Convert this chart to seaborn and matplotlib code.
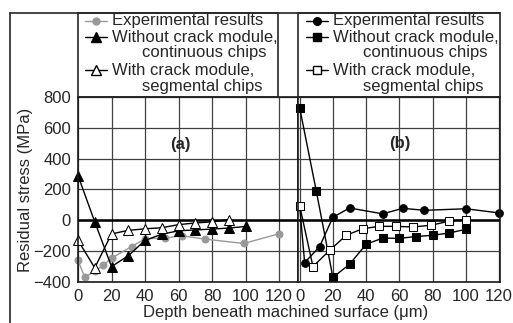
import numpy as np
import pandas as pd
import seaborn as sns
import matplotlib.pyplot as plt
from matplotlib.lines import Line2D
from matplotlib.patches import Rectangle

# panel (a) data
a_exp_x = [0, 4, 10, 15, 20, 32, 40, 52, 62, 76, 99, 120]
a_exp_y = [-260, -368, -330, -292, -245, -170, -120, -115, -100, -122, -150, -87]
a_cont_x = [0, 10, 20, 30, 40, 50, 60, 70, 80, 90, 100]
a_cont_y = [290, -10, -300, -230, -130, -90, -68, -62, -57, -50, -40]
a_seg_x = [0, 10, 20, 30, 40, 50, 60, 70, 80, 90]
a_seg_y = [-130, -308, -88, -65, -55, -48, -28, -17, -10, 5]

# panel (b) data
b_exp_x = [0, 3, 12, 20, 30, 50, 62, 75, 100, 120]
b_exp_y = [90, -275, -170, 20, 80, 42, 78, 65, 75, 48]
b_cont_x = [0, 10, 20, 30, 40, 50, 60, 70, 80, 90, 100]
b_cont_y = [730, 190, -370, -285, -155, -115, -117, -105, -97, -82, -58]
b_seg_x = [0, 8, 18, 28, 38, 48, 58, 68, 79, 90, 100]
b_seg_y = [95, -300, -195, -97, -54, -39, -39, -43, -32, -5, 4]

x_ticks = [0, 20, 40, 60, 80, 100, 120]
y_ticks = [-400, -200, 0, 200, 400, 600, 800]
labels = ["Experimental results", "Without crack module,", "continuous chips",
          "With crack module,", "segmental chips"]

sns.set_style("white")
plt.rcParams['font.family'] = ['Liberation Sans', 'DejaVu Sans']
plt.rcParams['font.size'] = 12

W, H = 513, 323
fx = lambda px: px / W
fy = lambda py: 1 - py / H

fig = plt.figure(figsize=(W / 100, H / 100), dpi=100)
ax_a = fig.add_axes([fx(78), fy(282), 220 / W, 185 / H])
ax_b = fig.add_axes([fx(298), fy(282), 202 / W, 185 / H])

grey = '0.6'
lw = 1.0

# panel (a)
sns.lineplot(x=a_exp_x, y=a_exp_y, ax=ax_a, color=grey, lw=lw, marker='o', markersize=5,
             markeredgecolor=grey, estimator=None, sort=False, clip_on=False)
sns.lineplot(x=a_cont_x, y=a_cont_y, ax=ax_a, color='black', lw=lw, marker='^', markersize=7,
             markeredgecolor='black', estimator=None, sort=False, clip_on=False)
sns.lineplot(x=a_seg_x, y=a_seg_y, ax=ax_a, color='black', lw=lw, marker='^', markersize=7,
             markerfacecolor='white', markeredgecolor='black', estimator=None, sort=False,
             clip_on=False)

# panel (b)
sns.lineplot(x=b_cont_x, y=b_cont_y, ax=ax_b, color='black', lw=lw, marker='s', markersize=6,
             markeredgecolor='black', estimator=None, sort=False, clip_on=False)
sns.lineplot(x=b_exp_x, y=b_exp_y, ax=ax_b, color='black', lw=lw, marker='o', markersize=5.5,
             markeredgecolor='black', estimator=None, sort=False, clip_on=False)
sns.lineplot(x=b_seg_x, y=b_seg_y, ax=ax_b, color='black', lw=lw, marker='s', markersize=6,
             markerfacecolor='white', markeredgecolor='black', estimator=None, sort=False,
             clip_on=False)

ax_a.set_xlim(0, 131.3)
ax_b.set_xlim(-1, 120.5)
for ax in (ax_a, ax_b):
    ax.set_ylim(-400, 800)
    ax.set_xticks(x_ticks)
    ax.set_yticks(y_ticks)
    ax.grid(True, color='0.25', lw=0.9)
    ax.axhline(0, color='black', lw=1.8, zorder=1.5)
    ax.tick_params(axis='both', labelsize=12, length=3, width=1, pad=2, color='0.2')
    for s in ax.spines.values():
        s.set_color('0.1')
        s.set_linewidth(1.2)
    ax.set_xlabel('')
ax_b.set_yticklabels([])
ax_b.tick_params(axis='y', length=0)
ax_a.set_ylabel('Residual stress (MPa)', fontsize=12)
ax_a.yaxis.set_label_coords((33 - 78) / 220, 0.5)

ax_a.text(61, 490, '(a)', fontsize=12, fontweight='bold', ha='center', va='center')
ax_b.text(60, 500, '(b)', fontsize=12, fontweight='bold', ha='center', va='center')

fig.text(fx(286), fy(313), 'Depth beneath machined surface (\u03bcm)', ha='center', va='center',
         fontsize=12)

# outer frame
fig.add_artist(Line2D([fx(10), fx(500)], [fy(13), fy(13)], color='0.15', lw=1.2))
fig.add_artist(Line2D([fx(10), fx(10)], [fy(13), 0], color='0.15', lw=1.2))

# legend boxes
fig.add_artist(Rectangle((fx(78), fy(97)), 200 / W, 84 / H, fill=False, ec='0.15', lw=1.2))
fig.add_artist(Rectangle((fx(298), fy(97)), 202 / W, 84 / H, fill=False, ec='0.15', lw=1.2))


def legend_block(x0, styles):
    rows = [21, 37, 53, 70, 87]
    entries = [(0, styles[0]), (1, styles[1]), (3, styles[2])]
    for i, st in entries:
        y = fy(rows[i])
        fig.add_artist(Line2D([fx(x0), fx(x0 + 11), fx(x0 + 22)], [y, y, y], markevery=[1], **st))
    for i, lab in enumerate(labels):
        xoff = x0 + 27 if i in (0, 1, 3) else x0 + 57
        fig.text(fx(xoff), fy(rows[i]), lab, ha='left', va='center', fontsize=12)


legend_block(85, [
    dict(color=grey, lw=lw, marker='o', markersize=5, markeredgecolor=grey),
    dict(color='black', lw=lw, marker='^', markersize=7),
    dict(color='black', lw=lw, marker='^', markersize=7, markerfacecolor='white'),
])
legend_block(306, [
    dict(color='black', lw=lw, marker='o', markersize=5.5),
    dict(color='black', lw=lw, marker='s', markersize=6),
    dict(color='black', lw=lw, marker='s', markersize=6, markerfacecolor='white'),
])

fig.savefig('out.png', dpi=100)
